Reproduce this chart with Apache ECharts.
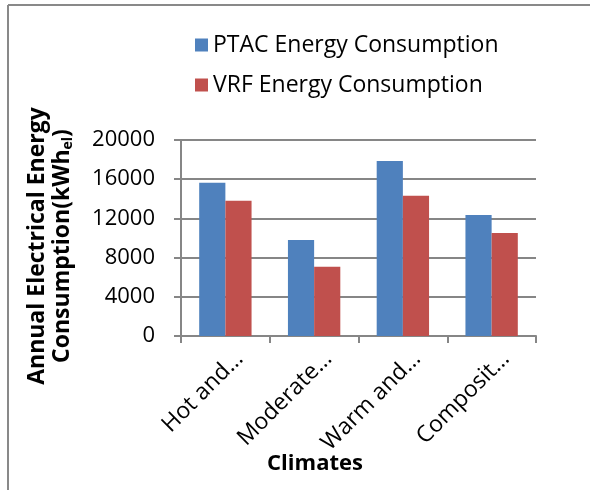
<!DOCTYPE html>
<html><head><meta charset="utf-8">
<script src="https://cdn.jsdelivr.net/npm/echarts@6/dist/echarts.min.js"></script>
<style>html,body{margin:0;padding:0;background:#fff}#c{width:590px;height:490px}</style>
</head><body><div id="c"></div>
<script>
const categories = ['Hot and…', 'Moderate…', 'Warm and…', 'Composit…'];
const ptac = [15650, 9800, 17850, 12350];
const vrf = [13800, 7070, 14300, 10500];
const yTicks = [0, 4000, 8000, 12000, 16000, 20000];
const seriesNames = ['PTAC Energy Consumption', 'VRF Energy Consumption'];

const FONT = 'Open Sans';
const chart = echarts.init(document.getElementById('c'));
chart.setOption({
  animation: false,
  backgroundColor: '#fff',
  textStyle: { fontFamily: FONT },
  graphic: [
    { type: 'line', shape: { x1: 8, y1: 5, x2: 590, y2: 5 }, style: { stroke: '#898989', lineWidth: 2 } },
    { type: 'line', shape: { x1: 8, y1: 5, x2: 8, y2: 490 }, style: { stroke: '#898989', lineWidth: 2 } }
  ],
  legend: {
    orient: 'vertical', left: 190, top: 25, itemGap: 10,
    icon: 'rect', itemWidth: 13, itemHeight: 13,
    textStyle: { fontFamily: FONT, fontSize: 23, color: '#000', lineHeight: 30 },
    data: seriesNames
  },
  grid: { left: 181, right: 54, top: 140, bottom: 154 },
  xAxis: {
    type: 'category', data: categories,
    name: 'Climates', nameLocation: 'middle', nameGap: 117, nameMoveOverlap: false,
    nameTextStyle: { fontFamily: FONT, fontSize: 22, fontWeight: 'bold', color: '#000', padding: [0, 87, 0, 0] },
    axisLine: { lineStyle: { color: '#868686', width: 2 } },
    axisTick: { show: true, length: 7, alignWithLabel: false, lineStyle: { color: '#868686', width: 2 } },
    axisLabel: {
      rotate: 45, fontFamily: FONT, fontSize: 23, color: '#000', margin: 5, interval: 0,
      lineHeight: 40, formatter: v => '\n' + v
    }
  },
  yAxis: {
    type: 'value', min: 0, max: 20000, interval: 4000,
    name: '{a|Annual Electrical Energy}\n{a|Consumption(kWh}{s|el}{a|)}',
    nameLocation: 'middle', nameRotate: 90, nameGap: 106,
    nameTextStyle: {
      padding: [0, 16, 0, 0],
      rich: {
        a: { fontFamily: FONT, fontSize: 23, fontWeight: 'bold', color: '#000', lineHeight: 25 },
        s: { fontFamily: FONT, fontSize: 14, fontWeight: 'bold', color: '#000', lineHeight: 25, verticalAlign: 'bottom', padding: [9, 0, 0, 0] }
      }
    },
    axisLine: { show: true, lineStyle: { color: '#868686', width: 2 } },
    axisTick: { show: true, length: 7, lineStyle: { color: '#868686', width: 2 } },
    axisLabel: {
      fontFamily: FONT, fontSize: 22, color: '#000', margin: 26,
      formatter: v => yTicks.includes(v) ? String(v) : ''
    },
    splitLine: { lineStyle: { color: '#868686', width: 2 } }
  },
  series: [
    { name: seriesNames[0], type: 'bar', data: ptac, itemStyle: { color: '#4F81BD' }, barGap: '0%', barCategoryGap: '41%' },
    { name: seriesNames[1], type: 'bar', data: vrf, itemStyle: { color: '#C0504D' }, barGap: '0%', barCategoryGap: '41%' }
  ]
});
</script></body></html>
